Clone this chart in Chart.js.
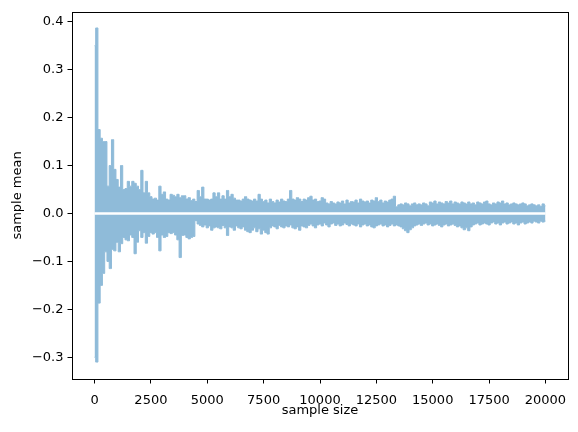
<!DOCTYPE html>
<html><head><meta charset="utf-8">
<script src="https://cdn.jsdelivr.net/npm/chart.js@4"></script>
<style>html,body{margin:0;padding:0;background:#fff;overflow:hidden}</style>
</head><body>
<canvas id="c" width="578" height="432" style="display:block;width:578px;height:432px"></canvas>
<script>
// sample sizes are read every 100 samples, from 0 to 20000
const sampleStep = 100;

// upper edge (positive excursions) of the sample-mean trace
const upperMeans = [
  0.350, 0.387, 0.175, 0.157, 0.150, 0.150, 0.057, 0.100, 0.154, 0.092,
  0.071, 0.055, 0.100, 0.050, 0.052, 0.067, 0.057, 0.067, 0.063, 0.057,
  0.050, 0.090, 0.043, 0.067, 0.043, 0.035, 0.030, 0.032, 0.028, 0.057,
  0.040, 0.045, 0.030, 0.028, 0.040, 0.038, 0.035, 0.040, 0.033, 0.037,
  0.037, 0.030, 0.033, 0.027, 0.030, 0.025, 0.048, 0.035, 0.055, 0.030,
  0.030, 0.028, 0.030, 0.043, 0.035, 0.043, 0.030, 0.037, 0.030, 0.048,
  0.035, 0.040, 0.032, 0.028, 0.028, 0.026, 0.030, 0.035, 0.030, 0.028,
  0.026, 0.030, 0.026, 0.040, 0.030, 0.025, 0.028, 0.022, 0.030, 0.025,
  0.022, 0.028, 0.024, 0.030, 0.026, 0.025, 0.030, 0.048, 0.030, 0.028,
  0.033, 0.030, 0.025, 0.030, 0.028, 0.033, 0.036, 0.028, 0.030, 0.025,
  0.026, 0.033, 0.030, 0.022, 0.020, 0.025, 0.022, 0.020, 0.024, 0.022,
  0.026, 0.020, 0.028, 0.022, 0.025, 0.024, 0.028, 0.022, 0.030, 0.026,
  0.024, 0.026, 0.022, 0.028, 0.026, 0.033, 0.025, 0.028, 0.022, 0.026,
  0.024, 0.028, 0.030, 0.036, 0.014, 0.018, 0.020, 0.018, 0.022, 0.020,
  0.016, 0.020, 0.022, 0.018, 0.020, 0.018, 0.022, 0.020, 0.016, 0.024,
  0.022, 0.026, 0.020, 0.024, 0.022, 0.020, 0.025, 0.022, 0.026, 0.020,
  0.024, 0.022, 0.020, 0.024, 0.022, 0.020, 0.024, 0.020, 0.022, 0.018,
  0.024, 0.022, 0.020, 0.024, 0.026, 0.020, 0.018, 0.022, 0.020, 0.024,
  0.022, 0.026, 0.020, 0.022, 0.018, 0.020, 0.022, 0.020, 0.018, 0.020,
  0.022, 0.020, 0.016, 0.018, 0.020, 0.018, 0.016, 0.018, 0.015, 0.020,
  0.016
];

// lower edge (negative excursions) of the sample-mean trace
const lowerMeans = [
  -0.300, -0.310, -0.187, -0.150, -0.125, -0.080, -0.100, -0.115, -0.075, -0.078,
  -0.060, -0.080, -0.063, -0.050, -0.055, -0.057, -0.045, -0.050, -0.084, -0.060,
  -0.036, -0.050, -0.040, -0.062, -0.048, -0.040, -0.043, -0.040, -0.050, -0.078,
  -0.045, -0.050, -0.048, -0.040, -0.042, -0.040, -0.045, -0.055, -0.092, -0.046,
  -0.045, -0.050, -0.053, -0.050, -0.048, -0.015, -0.022, -0.025, -0.028, -0.024,
  -0.030, -0.026, -0.035, -0.030, -0.028, -0.030, -0.032, -0.025, -0.030, -0.046,
  -0.028, -0.030, -0.035, -0.026, -0.030, -0.032, -0.028, -0.035, -0.038, -0.040,
  -0.035, -0.030, -0.038, -0.032, -0.043, -0.035, -0.040, -0.043, -0.030, -0.026,
  -0.028, -0.032, -0.025, -0.028, -0.030, -0.026, -0.028, -0.024, -0.030, -0.032,
  -0.028, -0.035, -0.026, -0.028, -0.030, -0.025, -0.022, -0.026, -0.030, -0.024,
  -0.022, -0.026, -0.020, -0.024, -0.028, -0.022, -0.020, -0.025, -0.022, -0.026,
  -0.024, -0.020, -0.023, -0.026, -0.022, -0.024, -0.026, -0.022, -0.028, -0.024,
  -0.022, -0.026, -0.024, -0.028, -0.030, -0.026, -0.024, -0.022, -0.026, -0.024,
  -0.028, -0.025, -0.022, -0.026, -0.024, -0.026, -0.028, -0.032, -0.036, -0.040,
  -0.034, -0.030, -0.026, -0.024, -0.022, -0.025, -0.022, -0.020, -0.024, -0.022,
  -0.026, -0.024, -0.022, -0.025, -0.028, -0.024, -0.022, -0.026, -0.024, -0.022,
  -0.025, -0.028, -0.026, -0.030, -0.034, -0.030, -0.036, -0.028, -0.024, -0.022,
  -0.020, -0.024, -0.022, -0.020, -0.022, -0.024, -0.020, -0.018, -0.022, -0.020,
  -0.024, -0.020, -0.018, -0.022, -0.020, -0.018, -0.022, -0.020, -0.024, -0.020,
  -0.018, -0.022, -0.020, -0.018, -0.020, -0.016, -0.018, -0.020, -0.016, -0.018,
  -0.016
];

const xTicks = [0, 2500, 5000, 7500, 10000, 12500, 15000, 17500, 20000];
const yTicks = [-0.3, -0.2, -0.1, 0.0, 0.1, 0.2, 0.3, 0.4];
const xRange = [-1000, 21000];
const yRange = [-0.3453, 0.4207];
const zeroLine = [0, 0];

const sampleSizes = upperMeans.map((_, i) => i * sampleStep);
const bandColor = '#8fbbd9';
const fontSpec = {family: 'DejaVu Sans', size: 13};

Chart.defaults.color = '#000';
Chart.defaults.font.family = 'DejaVu Sans';

const frame = {
  id: 'frame',
  afterDatasetsDraw(chart) {
    const a = chart.chartArea, ctx = chart.ctx;
    ctx.save();
    ctx.strokeStyle = '#000';
    ctx.lineWidth = 1;
    ctx.strokeRect(Math.round(a.left) + 0.5, Math.round(a.top) + 0.5,
                   Math.round(a.right - a.left), Math.round(a.bottom - a.top));
    ctx.restore();
  }
};

function fmtY(v) {
  return v.toFixed(1).replace('-', '\u2212');
}

new Chart(document.getElementById('c'), {
  type: 'line',
  data: {
    datasets: [
      {
        label: 'zero',
        data: [{x: sampleSizes[0], y: zeroLine[0]}, {x: sampleSizes[sampleSizes.length - 1], y: zeroLine[1]}],
        borderColor: '#ffffff', borderWidth: 2.5, pointRadius: 0, fill: false, order: 0
      },
      {
        label: 'upper',
        data: sampleSizes.map((n, i) => ({x: n, y: upperMeans[i]})),
        borderColor: bandColor, backgroundColor: bandColor, borderWidth: 1,
        pointRadius: 0, fill: 'origin', stepped: 'middle', order: 1
      },
      {
        label: 'lower',
        data: sampleSizes.map((n, i) => ({x: n, y: lowerMeans[i]})),
        borderColor: bandColor, backgroundColor: bandColor, borderWidth: 1,
        pointRadius: 0, fill: 'origin', stepped: 'middle', order: 2
      }
    ]
  },
  options: {
    responsive: false,
    animation: false,
    layout: {padding: {top: 9, right: 10, left: 0, bottom: 0}},
    plugins: {legend: {display: false}, tooltip: {enabled: false}},
    scales: {
      x: {
        type: 'linear', min: xRange[0], max: xRange[1],
        afterBuildTicks: s => { s.ticks = xTicks.map(v => ({value: v})); },
        afterFit: s => { s.height = 53; },
        ticks: {font: fontSpec, padding: 9, maxRotation: 0, autoSkip: false,
                callback: v => String(v)},
        grid: {drawOnChartArea: false, drawTicks: true, tickLength: 4.5, tickWidth: 1, tickColor: '#000'},
        border: {display: false},
        title: {display: true, text: 'sample size', font: fontSpec, padding: {top: 0, bottom: 14}}
      },
      y: {
        type: 'linear', min: yRange[0], max: yRange[1],
        afterBuildTicks: s => { s.ticks = yTicks.map(v => ({value: v})); },
        afterFit: s => { s.width = 72; },
        ticks: {font: fontSpec, padding: 4, autoSkip: false, callback: v => fmtY(v)},
        grid: {drawOnChartArea: false, drawTicks: true, tickLength: 4.5, tickWidth: 1, tickColor: '#000'},
        border: {display: false},
        title: {display: true, text: 'sample mean', font: fontSpec, padding: {top: 10, bottom: 0}}
      }
    }
  },
  plugins: [frame]
});
</script>
</body></html>
